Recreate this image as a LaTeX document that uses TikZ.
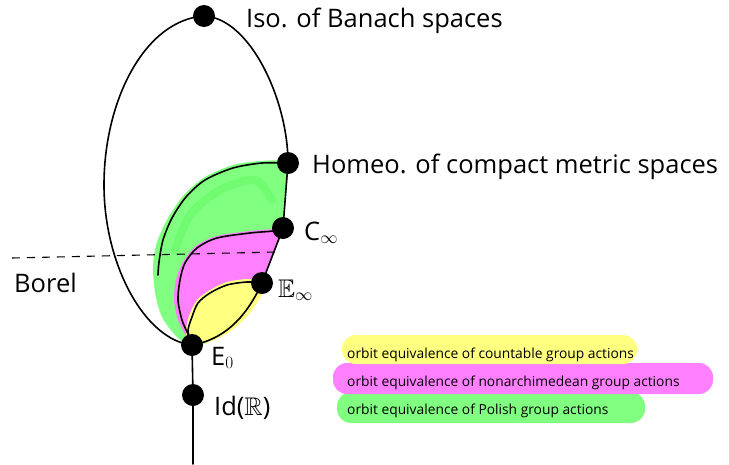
\documentclass[tikz,border=0pt]{standalone}
\usepackage{amssymb}
\usepackage{fontspec}
\setmainfont{Open Sans}
\definecolor{lgreen}{RGB}{128,255,128}
\definecolor{lmag}{RGB}{255,128,255}
\definecolor{lyel}{RGB}{255,255,128}
\definecolor{dgreen}{RGB}{70,240,70}
\tikzset{
  dot/.style={circle,fill=black,minimum size=22pt,inner sep=0pt},
  lab/.style={anchor=base west,inner sep=0pt,font=\fontsize{25.5}{28}\selectfont},
  leg/.style={anchor=base west,inner sep=0pt,font=\fontsize{13.8}{16}\selectfont},
  bar/.style={rounded corners=14pt},
  curve/.style={line width=1.6pt,line join=round,line cap=round},
}
\begin{document}
\begin{tikzpicture}[x=1pt,y=-1pt]
\useasboundingbox (0,0) rectangle (729,464);
% regions
\fill[lgreen] plot[smooth] coordinates {(290,160)(260,161)(233,165)(205,177)(184,195)(168,218)(157,242)(153,265)(155,292)(162,317)(177,337)(192,348)}
  -- (192,348) .. controls (222,340) and (246,318) .. (262,283) -- (283,228) -- (289,163) -- cycle;
\draw[dgreen,line width=8pt,opacity=0.25,line cap=round] plot[smooth] coordinates {(175,250)(190,215)(220,190)(255,180)(272,200)};
\fill[lmag] plot[smooth] coordinates {(285,226)(273,229)(250,231)(217,236)(196,246)(183,262)(176,280)(174,300)(178,320)(186,336)(192,346)}
  -- (192,346) .. controls (222,339) and (246,318) .. (262,283) -- (285,226) -- cycle;
\fill[lyel] plot[smooth] coordinates {(262,280)(247,279)(227,282)(210,290)(197,300)(189,316)(186,332)(190,346)}
  .. controls (225,342) and (252,320) .. (266,285) -- cycle;
% outer loop
\draw[curve] (204,16) .. controls (250,18) and (288,100) .. (288,163) -- (283,228) -- (262,283)
  .. controls (245,320) and (222,340) .. (192,345)
  .. controls (145,340) and (104,265) .. (104,185)
  .. controls (104,100) and (145,20) .. (204,16);
% region outlines
\draw[curve] plot[smooth] coordinates {(288,163)(262,163)(233,168)(205,180)(186,197)(172,218)(163,240)(159,262)(158,275)};
\draw[curve] plot[smooth] coordinates {(283,228)(273,231)(250,233)(217,238)(197,248)(185,263)(180,280)(178,300)(182,320)(188,334)(192,345)};
\draw[curve] plot[smooth] coordinates {(262,283)(247,282)(227,285)(210,293)(198,303)(192,317)(188,331)(192,345)};
% Borel line
\draw[line width=1.1pt,dash pattern=on 8pt off 7pt] (12,258) -- (276,252);
% vertical line
\coordinate (bot) at (193,464);
% dots
\node[dot] (iso) at (204,16) {};
\node[dot] (homeo) at (288,163) {};
\node[dot] (cinf) at (283,228) {};
\node[dot] (einf) at (262,283) {};
\node[dot] (ezero) at (192,345) {};
\node[dot] (id) at (193,395) {};
\draw[curve] (ezero.center) -- (id.center) -- (bot);
% labels
\node[lab] (tiso) at (246,27) {Iso. of Banach spaces};
\node[lab] (thomeo) at (312,173) {Homeo. of compact metric spaces};
\node[lab] (tcinf) at (304,240) {C$_\infty$};
\node[lab] (teinf) at (278,297) {$\mathbb{E}_\infty$};
\node[lab] (tezero) at (211,365) {E$_0$};
\node[lab] (tid) at (214,415) {Id($\mathbb{R}$)};
\node[lab] (tborel) at (14,292) {Borel};
% legend
\fill[lgreen,bar] (337,392) rectangle (645,423);
\fill[lmag,bar] (333,363) rectangle (713,394);
\fill[lyel,bar] (342,335) rectangle (637,364);
\node[leg] (l1) at (347,358) {orbit equivalence of countable group actions};
\node[leg] (l2) at (347,386) {orbit equivalence of nonarchimedean group actions};
\node[leg] (l3) at (347,414) {orbit equivalence of Polish group actions};
\end{tikzpicture}
\end{document}
